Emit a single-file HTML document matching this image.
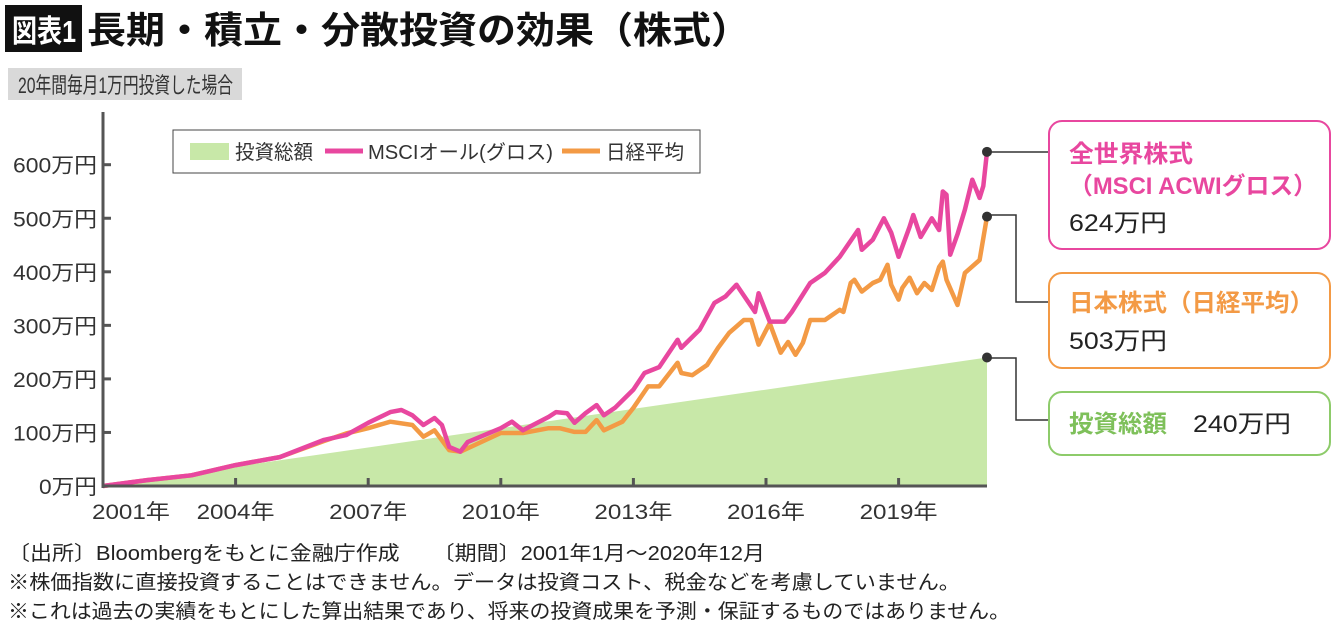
<!DOCTYPE html>
<html><head><meta charset="utf-8"><style>
html,body{margin:0;padding:0;background:#fff;width:1340px;height:635px;overflow:hidden}
svg{display:block;font-family:"Liberation Sans","Noto Sans CJK JP",sans-serif}
</style></head><body>
<svg id="c" width="1340" height="635" viewBox="0 0 1340 635">
<rect x="5" y="5" width="77" height="47" fill="#111"/>
<text x="12" y="42" font-size="31" font-weight="bold" fill="#fff" textLength="64" lengthAdjust="spacingAndGlyphs">図表1</text>
<text x="87" y="43" font-size="37" font-weight="bold" fill="#111" textLength="663" lengthAdjust="spacingAndGlyphs">長期・積立・分散投資の効果（株式）</text>
<rect x="8" y="68" width="234" height="32" fill="#d9d9d9"/>
<text x="18" y="93" font-size="22" fill="#333" textLength="215" lengthAdjust="spacingAndGlyphs">20年間毎月1万円投資した場合</text>
<g id="plot"></g>
<rect x="173" y="130" width="527" height="43" fill="#fff" stroke="#444" stroke-width="1"/>
<rect x="190" y="143" width="39" height="17" fill="#c8e8a8"/>
<text x="235" y="159" font-size="20" fill="#333" textLength="78" lengthAdjust="spacingAndGlyphs">投資総額</text>
<line x1="325" y1="151" x2="363" y2="151" stroke="#e8479f" stroke-width="5"/>
<text x="368" y="159" font-size="20" fill="#333" textLength="185" lengthAdjust="spacingAndGlyphs">MSCIオール(グロス)</text>
<line x1="562" y1="151" x2="600" y2="151" stroke="#f39a45" stroke-width="5"/>
<text x="606" y="159" font-size="20" fill="#333" textLength="78" lengthAdjust="spacingAndGlyphs">日経平均</text>
<g>
<path d="M987 152 H1049" stroke="#333" stroke-width="1.5" fill="none"/>
<path d="M987 215 H1016 V302 H1049" stroke="#333" stroke-width="1.5" fill="none"/>
<path d="M987 358 H1016 V420 H1049" stroke="#333" stroke-width="1.5" fill="none"/>
<rect x="1049" y="121" width="281" height="128" rx="13" fill="#fff" stroke="#e8479f" stroke-width="2"/>
<text x="1069" y="162" font-size="24" font-weight="bold" fill="#e8479f" textLength="124" lengthAdjust="spacingAndGlyphs">全世界株式</text>
<text x="1069" y="194" font-size="24" font-weight="bold" fill="#e8479f" textLength="248" lengthAdjust="spacingAndGlyphs">（MSCI ACWIグロス）</text>
<text x="1069" y="231" font-size="24" fill="#222" textLength="98" lengthAdjust="spacingAndGlyphs">624万円</text>
<rect x="1049" y="273" width="281" height="95" rx="13" fill="#fff" stroke="#f39a45" stroke-width="2"/>
<text x="1069" y="311" font-size="24" font-weight="bold" fill="#f39a45" textLength="245" lengthAdjust="spacingAndGlyphs">日本株式（日経平均）</text>
<text x="1069" y="349" font-size="24" fill="#222" textLength="98" lengthAdjust="spacingAndGlyphs">503万円</text>
<rect x="1049" y="392" width="281" height="63" rx="13" fill="#fff" stroke="#8dcb6a" stroke-width="2"/>
<text x="1069" y="432" font-size="24" font-weight="bold" fill="#7ec05a" textLength="98" lengthAdjust="spacingAndGlyphs">投資総額</text>
<text x="1193" y="432" font-size="24" fill="#222" textLength="98" lengthAdjust="spacingAndGlyphs">240万円</text>
</g>
<text x="8" y="560" font-size="20" fill="#222" textLength="757" lengthAdjust="spacingAndGlyphs">〔出所〕Bloombergをもとに金融庁作成　　〔期間〕2001年1月～2020年12月</text>
<text x="8" y="589" font-size="20" fill="#222" textLength="952" lengthAdjust="spacingAndGlyphs">※株価指数に直接投資することはできません。データは投資コスト、税金などを考慮していません。</text>
<text x="8" y="618" font-size="20" fill="#222" textLength="1002" lengthAdjust="spacingAndGlyphs">※これは過去の実績をもとにした算出結果であり、将来の投資成果を予測・保証するものではありません。</text>
</svg>
<script>
// months since Jan 2001 and values in 万円
const investMonths=[0,240];
const investValues=[0,240];
const msciMonths=[0,12,24,36,48,60,66,72,78,81,84,87,90,92,94,97,99,108,111,114,121,123,126,128,131,134,136,139,144,147,151,156,157,162,166,169,172,177,178,181,185,187,192,196,200,205,206,209,212,214,216,219,220,222,225,227,228,229,230,232,234,236,238,239,240];
const msciValues=[0,11,20,39,54,86,95,118,138,142,132,114,127,114,73,64,82,108,120,104,129,138,136,118,136,151,132,146,180,211,222,273,258,292,342,354,376,325,360,307,307,325,379,398,428,478,441,460,500,473,428,484,506,465,500,478,550,544,432,470,516,572,538,560,624];
const nikkeiMonths=[0,12,24,36,48,60,66,72,78,84,87,90,94,97,108,114,121,124,128,131,134,136,141,144,148,151,156,157,160,164,167,170,174,176,178,181,184,186,188,190,192,196,200,201,203,204,206,209,211,213,214,216,217,219,221,223,225,227,228,229,232,234,235,238,240];
const nikkeiValues=[0,11,20,39,54,84,98,108,120,114,92,104,67,64,99,99,108,108,101,101,123,104,120,146,186,186,230,211,207,226,258,286,310,310,264,304,249,269,245,267,310,310,329,325,379,385,363,379,385,413,376,348,370,389,360,379,366,409,419,385,338,398,404,422,503];
const yTicks=[0,100,200,300,400,500,600];
const xTickYears=[2001,2004,2007,2010,2013,2016,2019];

const X0=103,XW=884,Y0=486,YS=0.5355;
const sx=m=>X0+m*XW/240;
const sy=v=>Y0-v*YS;
const NS='http://www.w3.org/2000/svg';
const g=document.getElementById('plot');
function mk(t,a){const e=document.createElementNS(NS,t);for(const k in a)e.setAttribute(k,a[k]);g.appendChild(e);return e;}

let d='M'+sx(investMonths[0])+' '+sy(0);
investMonths.forEach((m,i)=>{d+=' L'+sx(m)+' '+sy(investValues[i]);});
d+=' L'+sx(investMonths[investMonths.length-1])+' '+sy(0)+' Z';
const area=mk('path',{d:d,fill:'#c8e8a8'});



function line(ms,vs,col,name){
  const p=ms.map((m,i)=>sx(m).toFixed(1)+','+sy(vs[i]).toFixed(1)).join(' ');
  const el=mk('polyline',{points:p,fill:'none',stroke:col,'stroke-width':4.5,'stroke-linejoin':'round'});
  
  
}
line(nikkeiMonths,nikkeiValues,'#f39a45','nikkei-line');
line(msciMonths,msciValues,'#e8479f','msci-line');

const ya=mk('line',{x1:X0,y1:112,x2:X0,y2:Y0+2,stroke:'#555','stroke-width':3});


const xa=mk('line',{x1:X0-1,y1:Y0,x2:sx(240),y2:Y0,stroke:'#555','stroke-width':3});


yTicks.forEach(v=>{
  if(v>0){const t=mk('line',{x1:X0,y1:sy(v),x2:X0+8,y2:sy(v),stroke:'#555','stroke-width':3});
  
  }
  const digits=String(v).length;
  const lb=mk('text',{x:97,y:sy(v)+8,'font-size':21,fill:'#333','text-anchor':'end',textLength:(digits*13+45),lengthAdjust:'spacingAndGlyphs'});
  lb.textContent=v+'万円';
  
  
});
xTickYears.forEach((yr,i)=>{
  const m=(yr-2001)*12;
  if(i>0){const t=mk('line',{x1:sx(m),y1:Y0,x2:sx(m),y2:Y0-8,stroke:'#555','stroke-width':3});
  
  }
  const lb=mk('text',{x:i==0?131:sx(m),y:519,'font-size':21,fill:'#333','text-anchor':'middle',textLength:78,lengthAdjust:'spacingAndGlyphs'});
  lb.textContent=yr+'年';
  
  
});
[[msciValues[msciValues.length-1],'msci-end-dot'],[nikkeiValues[nikkeiValues.length-1],'nikkei-end-dot'],[investValues[investValues.length-1],'investment-end-dot']].forEach(([v,n])=>{
  const c=mk('circle',{cx:sx(240),cy:sy(v),r:5,fill:'#333'});
  
  
});
</script>
</body></html>
